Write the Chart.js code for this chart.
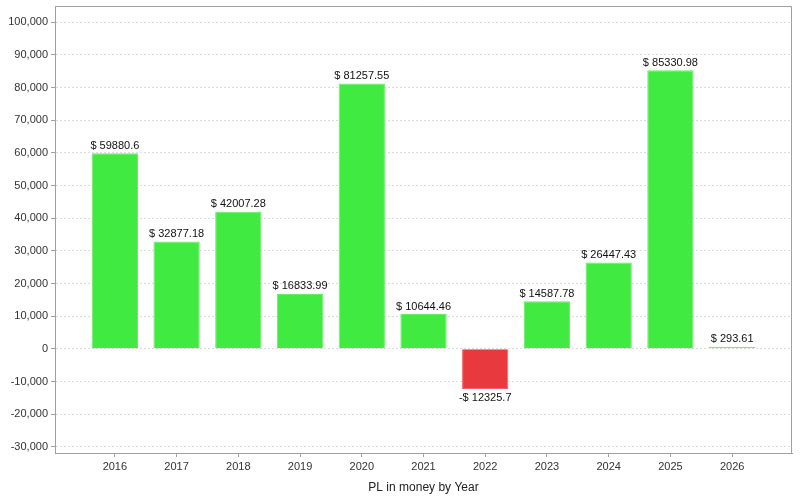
<!DOCTYPE html>
<html>
<head>
<meta charset="utf-8">
<script src="https://cdn.jsdelivr.net/npm/chart.js@4"></script>
<style>
  html, body { margin: 0; padding: 0; background: #fff; }
  #wrap { width: 800px; height: 500px; }
</style>
</head>
<body>
<div id="wrap"><canvas id="plChart" width="800" height="500"></canvas></div>
<script>
const years = [2016, 2017, 2018, 2019, 2020, 2021, 2022, 2023, 2024, 2025, 2026];
const profit = [59880.6, 32877.18, 42007.28, 16833.99, 81257.55, 10644.46, -12325.7, 14587.78, 26447.43, 85330.98, 293.61];
const yTicks = [-30000, -20000, -10000, 0, 10000, 20000, 30000, 40000, 50000, 60000, 70000, 80000, 90000, 100000];

document.addEventListener('DOMContentLoaded', function() {
  // value labels above / below each bar
  const barLabels = {
    id: 'barLabels',
    afterDatasetsDraw(chart) {
      const c = chart.ctx;
      const meta = chart.getDatasetMeta(0);
      c.save();
      c.font = '11px "Liberation Sans", Arial, sans-serif';
      c.fillStyle = '#111';
      c.textAlign = 'center';
      meta.data.forEach((bar, i) => {
        const v = profit[i];
        if (v >= 0) {
          c.textBaseline = 'bottom';
          c.fillText('$ ' + v, bar.x, bar.y - 2);
        } else {
          c.textBaseline = 'top';
          c.fillText('-$ ' + Math.abs(v), bar.x, bar.y + 3);
        }
      });
      c.restore();
    }
  };

  // box around the plot area
  const plotBox = {
    id: 'plotBox',
    afterDraw(chart) {
      const a = chart.chartArea;
      const c = chart.ctx;
      c.save();
      c.strokeStyle = '#a0a0a0';
      c.lineWidth = 1;
      c.beginPath();
      c.moveTo(a.left, a.top + 0.5);
      c.lineTo(a.right - 0.5, a.top + 0.5);
      c.lineTo(a.right - 0.5, a.bottom);
      c.stroke();
      c.restore();
    }
  };

  const ctx = document.getElementById('plChart').getContext('2d');
  new Chart(ctx, {
    type: 'bar',
    data: {
      datasets: [{
        data: years.map((y, i) => ({ x: y, y: profit[i] })),
        backgroundColor: profit.map(v => v >= 0 ? '#40ea40' : '#e83a3e'),
        borderColor: profit.map(v => v >= 0 ? '#66ee66' : '#ee6266'),
        borderWidth: 1,
        minBarLength: 2,
        barPercentage: 0.75,
        categoryPercentage: 1
      }]
    },
    options: {
      responsive: false,
      animation: false,
      layout: { padding: { top: 6, right: 8, left: 0, bottom: 0 } },
      plugins: {
        legend: { display: false },
        tooltip: { enabled: false }
      },
      scales: {
        x: {
          type: 'linear',
          min: 2015.03,
          max: 2026.97,
          offset: false,
          afterBuildTicks: scale => { scale.ticks = years.map(v => ({ value: v })); },
          afterFit: scale => { scale.height = 47; scale.paddingLeft = 0; scale.paddingRight = 0; },
          grid: { offset: false, drawOnChartArea: false, drawTicks: true, tickLength: 4, tickColor: '#a0a0a0' },
          border: { color: '#a0a0a0' },
          ticks: {
            padding: 3,
            color: '#333',
            font: { family: '"Liberation Sans", Arial, sans-serif', size: 11 },
            callback: v => String(v)
          },
          title: {
            display: true,
            text: 'PL in money by Year',
            color: '#222',
            padding: { top: 4, bottom: 5 },
            font: { family: '"Liberation Sans", Arial, sans-serif', size: 12 }
          }
        },
        y: {
          min: -31900,
          max: 105000,
          afterBuildTicks: scale => { scale.ticks = yTicks.map(v => ({ value: v })); },
          afterFit: scale => { scale.width = 55; scale.paddingTop = 0; scale.paddingBottom = 0; },
          grid: { color: '#dcdcdc', tickColor: '#a0a0a0', tickLength: 4 },
          border: { color: '#a0a0a0', dash: [2, 2] },
          ticks: {
            padding: 3,
            color: '#333',
            font: { family: '"Liberation Sans", Arial, sans-serif', size: 11 },
            callback: v => v.toLocaleString('en-US')
          }
        }
      }
    },
    plugins: [barLabels, plotBox]
  });
});
</script>
</body>
</html>
